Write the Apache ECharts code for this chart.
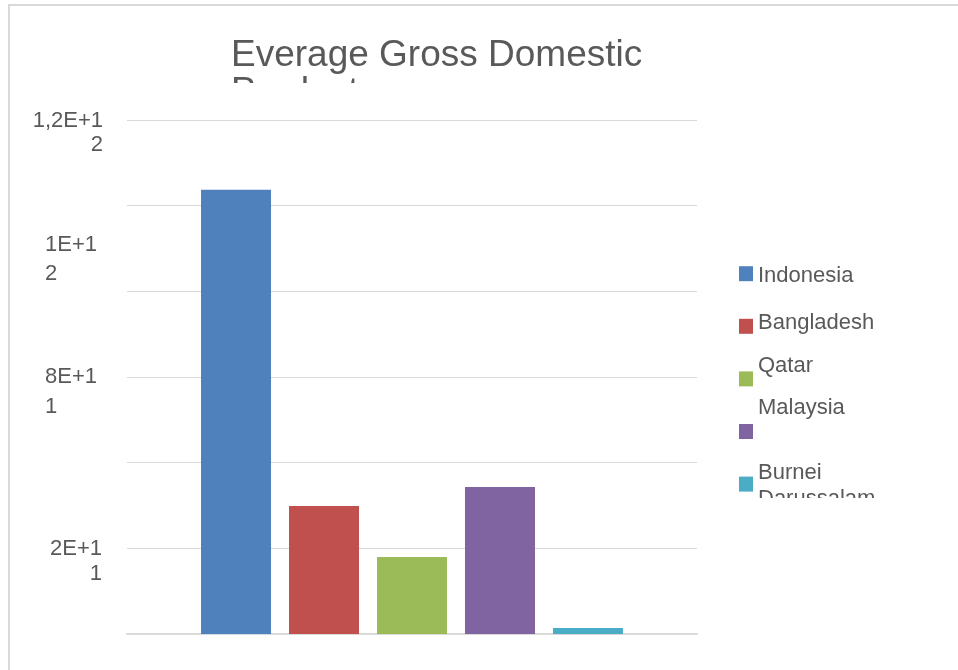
<!DOCTYPE html>
<html>
<head>
<meta charset="utf-8">
<script src="https://cdn.jsdelivr.net/npm/echarts@6/dist/echarts.min.js"></script>
<style>
html,body{margin:0;padding:0;background:#fff;}
#chart{width:958px;height:670px;}
</style>
</head>
<body>
<div id="chart"></div>
<script>
// ---- data ----
const titleText = 'Everage Gross Domestic Product';
const categories = ['Indonesia', 'Bangladesh', 'Qatar', 'Malaysia', 'Burnei Darussalam'];
const gdpValues = [1.037e12, 2.99e11, 1.80e11, 3.43e11, 1.4e10];
const seriesColors = ['#4F81BD', '#C0504D', '#9BBB59', '#8064A2', '#4BACC6'];
const yTickValues = [1.2e12, 1e12, 8e11, 2e11];
const yTickLabels = ['1,2E+12', '1E+12', '8E+11', '2E+11'];

// ---- presentation (text wrapping / spacing like the original) ----
const FONT = '"Liberation Sans", Arial, sans-serif';
const TXT = '#595959';
const rich = {};
function sp(h) { const k = 's' + String(h).replace('.', '_'); rich[k] = { fontSize: 1, lineHeight: h, fontFamily: FONT }; return '{' + k + '| }'; }
function ln(text, lh, align, padR) {
  const k = 't' + lh + (align || 'n') + (padR || 0);
  const st = { fontSize: 22, lineHeight: lh, color: TXT, fontFamily: FONT };
  if (align) st.align = align;
  if (padR) st.padding = [0, padR, 0, 0];
  rich[k] = st;
  return '{' + k + '|' + text + '}';
}
// y-axis labels wrap after all but the last character
const yLabelLayout = [
  { lead: 26.6, lh: 24, a2: null, pad: 0 },
  { lead: 108.2, lh: 29, a2: 'left', pad: 6 },
  { lead: 202, lh: 30, a2: 'left', pad: 6 },
  { lead: 27, lh: 25, a2: null, pad: 1 }
];
const yLabelStr = yTickLabels.map(function (lab, i) {
  const L = yLabelLayout[i];
  const a = lab.slice(0, -1), b = lab.slice(-1);
  return sp(L.lead) + '\n' + ln(a, L.lh, null, L.pad) + '\n' + ln(b, L.lh, L.a2, L.pad);
});
// legend entries: every block has the same extent (edge spacers) so the squares are evenly spaced
function legendBlock(lines, a, b) {
  let s = sp(2) + '\n';
  if (a > 0) s += sp(a) + '\n';
  s += lines.join('\n') + '\n';
  if (b > 0) s += sp(b) + '\n';
  return s + sp(2);
}
const legendLayout = {
  'Indonesia': legendBlock([ln('Indonesia', 24)], 29, 25),
  'Bangladesh': legendBlock([ln('Bangladesh', 24)], 24, 30),
  'Qatar': legendBlock([ln('Qatar', 24)], 14.3, 39.7),
  'Malaysia': legendBlock([ln('Malaysia', 24)], 3.3, 50.7),
  'Burnei Darussalam': legendBlock([ln('Burnei', 26), ln('Darussalam', 26)], 15, 11)
};

const chart = echarts.init(document.getElementById('chart'));
chart.setOption({
  backgroundColor: '#ffffff',
  animation: false,
  title: {
    text: 'Everage Gross Domestic\nProduct',
    left: 231, top: 37, padding: 0,
    textStyle: { fontSize: 37, lineHeight: 37, fontWeight: 'normal', color: TXT, fontFamily: FONT }
  },
  grid: { left: 127, right: 261, top: 120, bottom: 36 },
  legend: {
    orient: 'vertical', left: 739, top: 233.2, padding: 0, itemGap: -28.4,
    icon: 'rect', itemWidth: 14, itemHeight: 15,
    data: categories,
    formatter: function (name) { return legendLayout[name]; },
    textStyle: { fontSize: 22, color: TXT, fontFamily: FONT, rich: rich }
  },
  xAxis: {
    type: 'category', data: [''],
    axisLine: { lineStyle: { color: '#D9D9D9', width: 2 } },
    axisTick: { show: false }, axisLabel: { show: false }
  },
  yAxis: {
    type: 'value', min: 0, max: 1.2e12, interval: 2e11,
    axisLine: { show: false }, axisTick: { show: false },
    splitLine: { lineStyle: { color: '#D9D9D9', width: 1 } },
    axisLabel: {
      margin: 24, color: TXT, fontSize: 22, fontFamily: FONT, rich: rich,
      formatter: function (v) {
        for (let i = 0; i < yTickValues.length; i++) {
          if (Math.abs(v - yTickValues[i]) < 1e6) return yLabelStr[i];
        }
        return '';
      }
    }
  },
  series: categories.map(function (name, i) {
    return {
      name: name, type: 'bar', data: [gdpValues[i]],
      barWidth: 70, barGap: '25.7%',
      itemStyle: { color: seriesColors[i] }
    };
  }),
  graphic: [
    { type: 'rect', z: 100, shape: { x: 9, y: 5, width: 1000, height: 1000 }, style: { fill: 'none', stroke: '#D9D9D9', lineWidth: 2 } },
    { type: 'rect', z: 100, shape: { x: 220, y: 83, width: 320, height: 32 }, style: { fill: '#ffffff' } },
    { type: 'rect', z: 100, shape: { x: 755, y: 498, width: 180, height: 40 }, style: { fill: '#ffffff' } }
  ]
});
</script>
</body>
</html>
